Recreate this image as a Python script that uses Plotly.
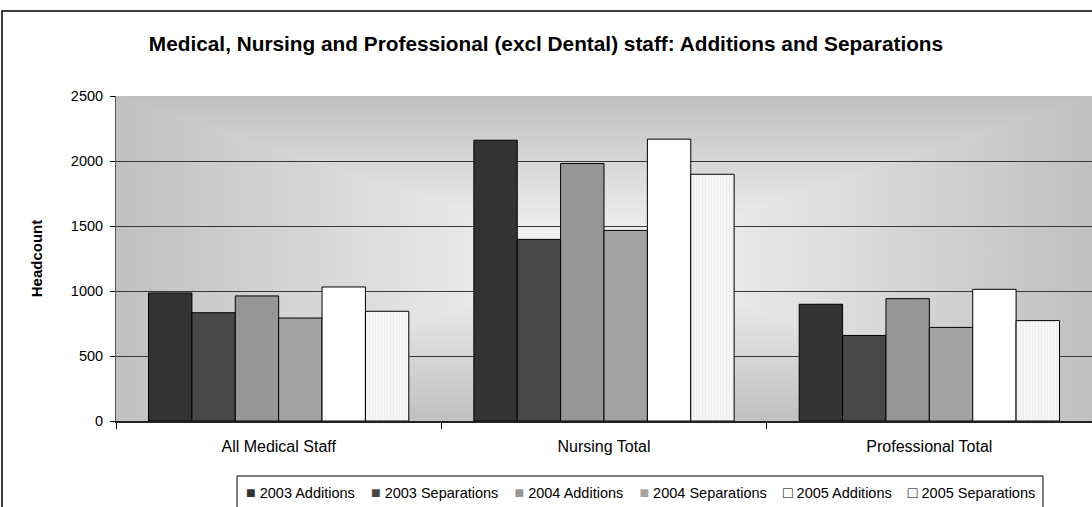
import base64
import plotly.graph_objects as go

categories = ["All Medical Staff", "Nursing Total", "Professional Total"]
series_names = ["2003 Additions", "2003 Separations", "2004 Additions",
                "2004 Separations", "2005 Additions", "2005 Separations"]
add_2003 = [985, 2160, 898]
sep_2003 = [833, 1397, 658]
add_2004 = [962, 1981, 941]
sep_2004 = [792, 1466, 720]
add_2005 = [1031, 2168, 1013]
sep_2005 = [844, 1898, 772]
y_ticks = [0, 500, 1000, 1500, 2000, 2500]

series_values = [add_2003, sep_2003, add_2004, sep_2004, add_2005, sep_2005]
fills = ["#333333", "#484848", "#969696", "#a3a3a3", "#ffffff", "#f3f3f3"]

FONT = "Liberation Sans, Arial, sans-serif"

fig = go.Figure()
for name, vals, col in zip(series_names, series_values, fills):
    marker = dict(color=col, line=dict(color="#000000", width=1))
    if name == "2005 Separations":
        marker["pattern"] = dict(shape="|", fgcolor="#e2e2e2", bgcolor="#f6f6f6",
                                 size=3, solidity=0.3)
    fig.add_trace(go.Bar(name=name, x=categories, y=vals, marker=marker,
                         showlegend=False))

# "from centre" gradient background for the plot area (style only)
W, H = 976, 325
EDGE, CENTRE = "#c0c0c0", "#f8f8f8"
svg = (
    f"<svg xmlns='http://www.w3.org/2000/svg' width='{W}' height='{H}' "
    f"viewBox='0 0 {W} {H}' preserveAspectRatio='none'>"
    "<defs>"
    f"<linearGradient id='t' gradientUnits='userSpaceOnUse' x1='0' y1='0' x2='0' y2='{H/2}'>"
    f"<stop offset='0' stop-color='{EDGE}'/><stop offset='1' stop-color='{CENTRE}'/></linearGradient>"
    f"<linearGradient id='b' gradientUnits='userSpaceOnUse' x1='0' y1='{H}' x2='0' y2='{H/2}'>"
    f"<stop offset='0' stop-color='{EDGE}'/><stop offset='1' stop-color='{CENTRE}'/></linearGradient>"
    f"<linearGradient id='l' gradientUnits='userSpaceOnUse' x1='0' y1='0' x2='{W/2}' y2='0'>"
    f"<stop offset='0' stop-color='{EDGE}'/><stop offset='1' stop-color='{CENTRE}'/></linearGradient>"
    f"<linearGradient id='r' gradientUnits='userSpaceOnUse' x1='{W}' y1='0' x2='{W/2}' y2='0'>"
    f"<stop offset='0' stop-color='{EDGE}'/><stop offset='1' stop-color='{CENTRE}'/></linearGradient>"
    "</defs>"
    f"<rect x='0' y='0' width='{W}' height='{H}' fill='{CENTRE}'/>"
    f"<polygon points='0,0 {W},0 {W/2},{H/2}' fill='url(#t)' stroke='url(#t)' stroke-width='0.6'/>"
    f"<polygon points='0,{H} {W},{H} {W/2},{H/2}' fill='url(#b)' stroke='url(#b)' stroke-width='0.6'/>"
    f"<polygon points='0,0 0,{H} {W/2},{H/2}' fill='url(#l)' stroke='url(#l)' stroke-width='0.6'/>"
    f"<polygon points='{W},0 {W},{H} {W/2},{H/2}' fill='url(#r)' stroke='url(#r)' stroke-width='0.6'/>"
    "</svg>"
)
uri = "data:image/svg+xml;base64," + base64.b64encode(svg.encode()).decode()
fig.add_layout_image(dict(source=uri, xref="paper", yref="paper", x=0, y=1,
                          sizex=1, sizey=1, xanchor="left", yanchor="top",
                          sizing="stretch", layer="below"))

# outer chart border (left and top visible; the rest is cropped)
fig.add_shape(type="path", xref="paper", yref="paper",
              path="M -0.1168,-0.4 L -0.1168,1.2615 L 1.05,1.2615",
              line=dict(color="#000000", width=1.5))

# legend box + entries (Excel-style compact legend)
fig.add_shape(type="rect", xref="paper", yref="paper",
              x0=0.124, x1=0.9498, y0=-0.40, y1=-0.1692,
              line=dict(color="#000000", width=1), fillcolor="#ffffff")
SEP = "\u00a0\u00a0\u00a0\u00a0"
parts = []
for n, c in zip(series_names, fills):
    if c.lower() in ("#ffffff", "#f3f3f3"):
        sym = "<span style='color:#000000;font-size:16px'>\u25a1</span>"
    else:
        sym = f"<span style='color:{c};font-size:16px'>\u25a0</span>"
    parts.append(f"{sym}\u00a0{n}")
fig.add_annotation(text=SEP.join(parts), xref="paper", yref="paper", x=0.5369, y=-0.2215,
                   xanchor="center", yanchor="middle", showarrow=False,
                   font=dict(family=FONT, size=14.5, color="#000000"))

fig.update_layout(
    width=1092, height=507,
    margin=dict(l=116, r=0, t=96, b=86),
    paper_bgcolor="#ffffff",
    plot_bgcolor="rgba(0,0,0,0)",
    font=dict(family=FONT, size=16, color="#000000"),
    title=dict(text="<b>Medical, Nursing and Professional (excl Dental) staff: Additions and Separations</b>",
               x=0.5, xref="container", xanchor="center",
               y=1 - 44 / 507, yref="container", yanchor="middle",
               font=dict(family=FONT, size=20.8, color="#000000")),
    barmode="group", bargap=0.2, bargroupgap=0,
    showlegend=False,
)
fig.update_xaxes(showline=True, linecolor="#222222", linewidth=2,
                 ticks="outside", tickson="boundaries", ticklen=6, tickcolor="#000000",
                 ticklabelstandoff=10,
                 showgrid=False, tickfont=dict(size=16))
fig.update_yaxes(range=[0, 2500], tickvals=y_ticks, showgrid=True,
                 gridcolor="#383838", gridwidth=1,
                 showline=True, linecolor="#555555", linewidth=1,
                 ticks="outside", ticklen=5, tickcolor="#000000",
                 ticklabelstandoff=4,
                 zeroline=False, tickfont=dict(size=14.5),
                 title=dict(text="<b>Headcount</b>", font=dict(size=15), standoff=24))

fig.write_html("out.html")
